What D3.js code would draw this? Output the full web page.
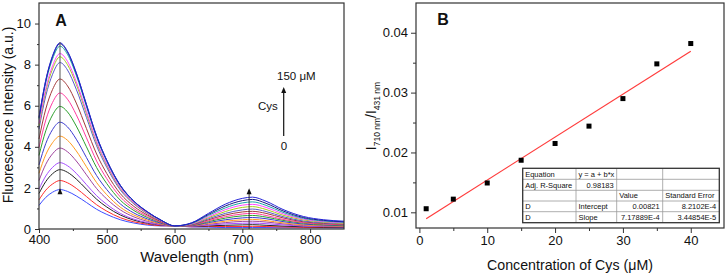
<!DOCTYPE html>
<html lang="en">
<head>
  <meta charset="UTF-8">
  <title>Cys fluorescence</title>
  <script src="https://d3js.org/d3.v7.min.js"></script>
  <style>
    body { margin: 0; background: #fff; }
    text { font-family: "Liberation Sans", Arial, sans-serif; fill: #111; }
  </style>
</head>
<body>
  <svg id="chart"></svg>
  <script>
    // panel A: emission spectra, 0 -> 150 uM Cys (bottom curve first)
    const wavelengths = [400, 410, 420, 431, 442, 455, 470, 485, 500, 520, 540, 560,
                         580, 600, 625, 650, 675, 700, 715, 735, 760, 790, 820, 850];
    const spectra = [
      [1.15,1.54,1.79,1.92,1.83,1.61,1.29,0.96,0.71,0.45,0.29,0.19,0.15,0.15,0.10,0.09,0.07,0.07,0.07,0.07,0.06,0.06,0.06,0.05],
      [1.42,1.89,2.19,2.36,2.25,1.98,1.58,1.18,0.87,0.55,0.35,0.23,0.16,0.15,0.11,0.12,0.12,0.12,0.13,0.12,0.10,0.08,0.07,0.07],
      [1.73,2.31,2.69,2.89,2.76,2.43,1.94,1.45,1.07,0.68,0.43,0.28,0.19,0.15,0.12,0.15,0.18,0.20,0.21,0.18,0.14,0.11,0.09,0.08],
      [1.94,2.58,3.00,3.23,3.08,2.71,2.16,1.62,1.20,0.76,0.48,0.31,0.20,0.15,0.13,0.19,0.25,0.28,0.29,0.26,0.20,0.14,0.12,0.10],
      [2.36,3.15,3.66,3.94,3.76,3.31,2.64,1.97,1.46,0.93,0.59,0.37,0.23,0.15,0.14,0.23,0.31,0.37,0.38,0.34,0.25,0.17,0.14,0.12],
      [2.71,3.62,4.20,4.52,4.32,3.80,3.03,2.26,1.67,1.06,0.68,0.43,0.25,0.15,0.16,0.27,0.38,0.45,0.47,0.41,0.30,0.20,0.16,0.14],
      [3.12,4.16,4.84,5.20,4.97,4.37,3.48,2.60,1.92,1.22,0.78,0.49,0.28,0.15,0.17,0.31,0.45,0.54,0.56,0.50,0.36,0.24,0.19,0.16],
      [3.58,4.78,5.55,5.97,5.70,5.01,4.00,2.99,2.21,1.40,0.90,0.56,0.31,0.15,0.18,0.36,0.53,0.64,0.66,0.58,0.42,0.28,0.21,0.18],
      [3.97,5.30,6.16,6.62,6.32,5.56,4.44,3.31,2.45,1.56,0.99,0.62,0.33,0.15,0.19,0.40,0.60,0.73,0.76,0.66,0.47,0.31,0.24,0.20],
      [4.38,5.84,6.79,7.30,6.97,6.13,4.89,3.65,2.70,1.72,1.10,0.68,0.36,0.15,0.21,0.45,0.68,0.83,0.86,0.76,0.54,0.35,0.27,0.23],
      [4.86,6.48,7.53,8.10,7.74,6.80,5.43,4.05,3.00,1.90,1.22,0.75,0.39,0.15,0.22,0.50,0.76,0.93,0.97,0.85,0.60,0.39,0.30,0.25],
      [5.03,6.70,7.79,8.38,8.00,7.04,5.61,4.19,3.10,1.97,1.26,0.77,0.41,0.15,0.24,0.55,0.85,1.05,1.09,0.95,0.67,0.44,0.33,0.27],
      [5.12,6.83,7.94,8.54,8.16,7.17,5.72,4.27,3.16,2.01,1.28,0.79,0.41,0.15,0.25,0.60,0.94,1.16,1.20,1.05,0.74,0.48,0.36,0.30],
      [5.34,7.12,8.28,8.90,8.50,7.48,5.96,4.45,3.29,2.09,1.34,0.82,0.43,0.15,0.27,0.66,1.03,1.27,1.32,1.15,0.81,0.52,0.39,0.33],
      [5.41,7.22,8.39,9.02,8.61,7.58,6.04,4.51,3.34,2.12,1.35,0.83,0.43,0.15,0.29,0.71,1.12,1.38,1.44,1.25,0.88,0.56,0.42,0.35],
      [5.44,7.25,8.43,9.06,8.65,7.61,6.07,4.53,3.35,2.13,1.36,0.84,0.43,0.15,0.30,0.76,1.21,1.49,1.55,1.35,0.95,0.61,0.45,0.38]
    ];
    const curveColors = ["#3d4dff", "#ff2b2b", "#222222", "#a64dff", "#a0449e", "#ff9a1f",
                         "#3a3ad0", "#2ca02c", "#ff3aa0", "#a33a3a", "#5a5ac8", "#a8cc1c",
                         "#ff44ff", "#1aa6a6", "#1a1a80", "#2323d8"];
    const xTicksA = [400, 500, 600, 700, 800];
    const yTicksA = [0, 2, 4, 6, 8, 10];

    // panel B: ratio vs Cys
    const cysConc = [1, 5, 10, 15, 20, 25, 30, 35, 40];
    const ratio = [0.0106, 0.0122, 0.0149, 0.0187, 0.0215, 0.0244, 0.0290, 0.0348, 0.0382];
    const fitIntercept = 0.00821;
    const fitSlope = 7.17889e-4;
    const xTicksB = [0, 10, 20, 30, 40];
    const yTicksB = [0.01, 0.02, 0.03, 0.04];
    const tableRows = [
      ["Equation", "y = a + b*x", "", ""],
      ["Adj. R-Square", "0.98183", "", ""],
      ["", "", "Value", "Standard Error"],
      ["D", "Intercept", "0.00821", "8.2102E-4"],
      ["D", "Slope", "7.17889E-4", "3.44854E-5"]
    ];

    const svg = d3.select("#chart")
      .attr("width", 727)
      .attr("height", 274);

    function styleAxis(g, size) {
      g.select(".domain").remove();
      g.selectAll("line").attr("stroke", "#333");
      g.selectAll("text").style("font-size", size + "px").attr("fill", "#111");
    }

    // ---------- panel A ----------
    const xA = d3.scaleLinear().domain([400, 850]).range([39, 344]);
    const yA = d3.scaleLinear().domain([0, 11]).range([229, 3]);

    const line = d3.line()
      .x((d, i) => xA(wavelengths[i]))
      .y(d => yA(d))
      .curve(d3.curveMonotoneX);

    svg.append("g")
      .selectAll("path")
      .data(spectra)
      .enter()
      .append("path")
      .attr("d", line)
      .attr("fill", "none")
      .attr("stroke", (d, i) => curveColors[i])
      .attr("stroke-width", 1);

    svg.append("g")
      .attr("transform", "translate(0,229)")
      .call(d3.axisBottom(xA).tickValues(xTicksA).tickSize(4).tickPadding(2))
      .call(g => styleAxis(g, 13));
    svg.append("g")
      .attr("transform", "translate(0,229)")
      .call(d3.axisBottom(xA).tickValues([450, 550, 650, 750]).tickSize(2).tickFormat(""))
      .call(g => styleAxis(g, 13));
    svg.append("g")
      .attr("transform", "translate(39,0)")
      .call(d3.axisLeft(yA).tickValues(yTicksA).tickSize(4).tickPadding(4))
      .call(g => styleAxis(g, 13));
    svg.append("g")
      .attr("transform", "translate(39,0)")
      .call(d3.axisLeft(yA).tickValues([1, 3, 5, 7, 9]).tickSize(2).tickFormat(""))
      .call(g => styleAxis(g, 13));

    svg.append("rect")
      .attr("x", xA(400)).attr("y", yA(11))
      .attr("width", xA(850) - xA(400)).attr("height", yA(0) - yA(11))
      .attr("fill", "none").attr("stroke", "#333").attr("stroke-width", 1.2);

    // arrows in the spectra
    svg.append("line")
      .attr("x1", xA(431)).attr("x2", xA(431))
      .attr("y1", yA(9.1)).attr("y2", yA(1.7))
      .attr("stroke", "#555").attr("stroke-width", 1);
    svg.append("path")
      .attr("d", `M${xA(431)},${yA(1.98)} l-2.5,6 l5,0 z`)
      .attr("fill", "#111");
    svg.append("line")
      .attr("x1", xA(710)).attr("x2", xA(710))
      .attr("y1", yA(0)).attr("y2", yA(1.9))
      .attr("stroke", "#333").attr("stroke-width", 1);
    svg.append("path")
      .attr("d", `M${xA(710)},${yA(1.98)} l-2.5,6 l5,0 z`)
      .attr("fill", "#111");

    // legend arrow
    svg.append("line")
      .attr("x1", 283.7).attr("x2", 283.7).attr("y1", 136).attr("y2", 92)
      .attr("stroke", "#111").attr("stroke-width", 1.2);
    svg.append("path")
      .attr("d", "M283.7,87 l-2.5,6 l5,0 z").attr("fill", "#111");
    svg.append("text").attr("x", 277).attr("y", 80).style("font-size", "11.5px").text("150 μM");
    svg.append("text").attr("x", 258).attr("y", 110).style("font-size", "11.5px").text("Cys");
    svg.append("text").attr("x", 284).attr("y", 150).attr("text-anchor", "middle")
      .style("font-size", "11.5px").text("0");

    svg.append("text").attr("x", 61).attr("y", 26).attr("text-anchor", "middle")
      .style("font-size", "16px").style("font-weight", "bold").text("A");

    svg.append("text")
      .attr("x", 197).attr("y", 262).attr("text-anchor", "middle")
      .style("font-size", "15px").text("Wavelength (nm)");
    svg.append("text")
      .attr("transform", "translate(13,115) rotate(-90)")
      .attr("text-anchor", "middle")
      .style("font-size", "14px").text("Fluorescence Intensity (a.u.)");

    // ---------- panel B ----------
    const xB = d3.scaleLinear().domain([-0.5, 44.9]).range([416, 724]);
    const yB = d3.scaleLinear().domain([0.00738, 0.04497]).range([228, 3]);

    svg.append("line")
      .attr("x1", xB(cysConc[0])).attr("x2", xB(cysConc[cysConc.length - 1]))
      .attr("y1", yB(fitIntercept + fitSlope * cysConc[0]))
      .attr("y2", yB(fitIntercept + fitSlope * cysConc[cysConc.length - 1]))
      .attr("stroke", "#ff3b3b").attr("stroke-width", 1.2);

    svg.append("g")
      .selectAll("rect")
      .data(cysConc)
      .enter()
      .append("rect")
      .attr("x", d => xB(d) - 2.5)
      .attr("y", (d, i) => yB(ratio[i]) - 2.5)
      .attr("width", 5)
      .attr("height", 5)
      .attr("fill", "#000");

    svg.append("g")
      .attr("transform", "translate(0,228)")
      .call(d3.axisBottom(xB).tickValues(xTicksB).tickSize(5).tickPadding(3))
      .call(g => styleAxis(g, 13));
    svg.append("g")
      .attr("transform", "translate(0,228)")
      .call(d3.axisBottom(xB).tickValues([5, 15, 25, 35]).tickSize(3).tickFormat(""))
      .call(g => styleAxis(g, 13));
    svg.append("g")
      .attr("transform", "translate(416,0)")
      .call(d3.axisLeft(yB).tickValues(yTicksB).tickSize(5).tickPadding(3).tickFormat(d3.format(".2f")))
      .call(g => styleAxis(g, 13));
    svg.append("g")
      .attr("transform", "translate(416,0)")
      .call(d3.axisLeft(yB).tickValues([0.015, 0.025, 0.035]).tickSize(3).tickFormat(""))
      .call(g => styleAxis(g, 13));

    svg.append("rect")
      .attr("x", 416).attr("y", 3).attr("width", 308).attr("height", 225)
      .attr("fill", "none").attr("stroke", "#333").attr("stroke-width", 1.2);

    svg.append("text").attr("x", 443).attr("y", 25).attr("text-anchor", "middle")
      .style("font-size", "16px").style("font-weight", "bold").text("B");

    svg.append("text")
      .attr("x", 570).attr("y", 270).attr("text-anchor", "middle")
      .style("font-size", "14.2px").text("Concentration of Cys (μM)");

    const yLabel = svg.append("text")
      .attr("transform", "translate(376,116) rotate(-90)")
      .attr("text-anchor", "middle")
      .style("font-size", "14px");
    yLabel.append("tspan").text("I");
    yLabel.append("tspan").attr("dy", 4).style("font-size", "8.5px").text("710 nm");
    yLabel.append("tspan").attr("dy", -4).text("/I");
    yLabel.append("tspan").attr("dy", 4).style("font-size", "8.5px").text("431 nm");

    // fit table
    const colX = [522.7, 576, 616.7, 662.7, 719.3];
    const rowY = [168.3, 179.3, 190.3, 201, 211.7, 222.7];
    const table = svg.append("g");
    table.append("rect")
      .attr("x", colX[0]).attr("y", rowY[0])
      .attr("width", colX[4] - colX[0]).attr("height", rowY[5] - rowY[0])
      .attr("fill", "#fff");
    rowY.slice(1, -1).forEach(y => table.append("line")
      .attr("x1", colX[0]).attr("x2", colX[4]).attr("y1", y).attr("y2", y)
      .attr("stroke", "#999").attr("stroke-width", 0.8));
    colX.slice(1, -1).forEach(x => table.append("line")
      .attr("x1", x).attr("x2", x).attr("y1", rowY[0]).attr("y2", rowY[5])
      .attr("stroke", "#999").attr("stroke-width", 0.8));
    table.append("rect")
      .attr("x", colX[0]).attr("y", rowY[0])
      .attr("width", colX[4] - colX[0]).attr("height", rowY[5] - rowY[0])
      .attr("fill", "none").attr("stroke", "#333").attr("stroke-width", 1.3);

    tableRows.forEach((row, r) => {
      row.forEach((cell, c) => {
        if (!cell) return;
        const numeric = /^[0-9]/.test(cell);
        table.append("text")
          .attr("x", numeric ? colX[c + 1] - 3 : colX[c] + 2.5)
          .attr("y", rowY[r + 1] - 2.8)
          .attr("text-anchor", numeric ? "end" : "start")
          .style("font-size", "7.5px")
          .text(cell);
      });
    });
  </script>
</body>
</html>
